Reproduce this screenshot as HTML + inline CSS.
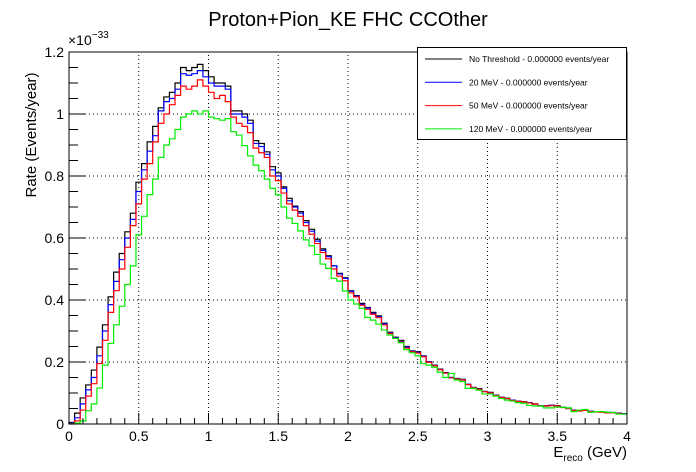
<!DOCTYPE html>
<html><head><meta charset="utf-8"><style>
html,body{margin:0;padding:0;background:#fff;}
svg{display:block;font-family:"Liberation Sans",Arial,sans-serif;}
</style></head><body>
<svg id="chart" width="696" height="472" viewBox="0 0 696 472">
<rect x="0" y="0" width="696" height="472" fill="#fff"/>
<text x="348" y="26" text-anchor="middle" font-size="20">Proton+Pion_KE FHC CCOther</text>
<g id="grid"></g>
<g id="series"></g>
<g id="axes"></g>
<text x="68" y="45" font-size="14">×10<tspan dy="-7" font-size="10">−33</tspan></text>
<text transform="translate(36,135) rotate(-90)" text-anchor="middle" font-size="15">Rate (Events/year)</text>
<text x="627" y="457" text-anchor="end" font-size="15">E<tspan dy="4" font-size="10">reco</tspan><tspan dy="-4"> (GeV)</tspan></text>
<g>
<rect x="417.5" y="47.5" width="209" height="92" fill="#fff" stroke="#000" stroke-width="1"/>
<g id="legend-entries"></g>
</g>
</svg>
<script>
const binWidth = 0.04;
const seriesNames = ["No Threshold - 0.000000 events/year","20 MeV - 0.000000 events/year","50 MeV - 0.000000 events/year","120 MeV - 0.000000 events/year"];
const seriesColors = ["#000000","#0000ff","#ff0000","#00ee00"];
const xTickLabels = ["0","0.5","1","1.5","2","2.5","3","3.5","4"];
const yTickLabels = ["0","0.2","0.4","0.6","0.8","1","1.2"];
const noThreshold = [0.005,0.035,0.084,0.126,0.174,0.248,0.32,0.41,0.49,0.55,
0.62,0.68,0.78,0.84,0.91,0.96,1.02,1.055,1.07,1.10,
1.15,1.14,1.15,1.16,1.14,1.12,1.10,1.10,1.09,1.01,
1.01,1.0,0.98,0.914,0.905,0.878,0.83,0.81,0.765,0.728,
0.703,0.685,0.656,0.628,0.596,0.565,0.543,0.51,0.486,0.472,
0.43,0.414,0.389,0.376,0.36,0.349,0.325,0.296,0.28,0.27,
0.25,0.236,0.233,0.22,0.201,0.19,0.177,0.166,0.15,0.147,
0.144,0.128,0.118,0.114,0.105,0.102,0.093,0.086,0.083,0.077,
0.074,0.072,0.069,0.065,0.059,0.059,0.06,0.059,0.054,0.051,
0.045,0.043,0.045,0.041,0.04,0.039,0.037,0.037,0.035,0.033];
const mev20 = [0.003,0.02,0.065,0.11,0.15,0.22,0.30,0.385,0.46,0.53,
0.60,0.66,0.75,0.82,0.88,0.93,1.01,1.04,1.05,1.08,
1.13,1.125,1.13,1.14,1.12,1.10,1.09,1.09,1.08,1.0,
1.0,0.99,0.97,0.905,0.895,0.87,0.82,0.80,0.76,0.72,
0.70,0.68,0.65,0.622,0.59,0.56,0.54,0.51,0.484,0.47,
0.428,0.412,0.386,0.374,0.357,0.346,0.323,0.294,0.278,0.266,
0.248,0.235,0.231,0.219,0.2,0.189,0.176,0.165,0.15,0.146,
0.143,0.128,0.118,0.113,0.105,0.101,0.093,0.086,0.082,0.077,
0.074,0.071,0.069,0.064,0.059,0.058,0.06,0.058,0.054,0.05,
0.045,0.043,0.044,0.041,0.04,0.039,0.037,0.036,0.035,0.033];
const mev50 = [0.001,0.01,0.045,0.09,0.13,0.195,0.27,0.36,0.43,0.50,
0.57,0.64,0.71,0.79,0.84,0.91,0.97,1.0,1.03,1.06,
1.09,1.08,1.09,1.11,1.09,1.07,1.05,1.06,1.04,0.99,
0.97,0.96,0.94,0.89,0.875,0.86,0.80,0.785,0.745,0.71,
0.69,0.67,0.64,0.612,0.582,0.553,0.533,0.50,0.477,0.462,
0.423,0.41,0.383,0.37,0.354,0.343,0.32,0.292,0.276,0.264,
0.245,0.233,0.229,0.217,0.199,0.188,0.175,0.164,0.149,0.145,
0.142,0.127,0.117,0.112,0.104,0.1,0.092,0.085,0.082,0.076,
0.073,0.071,0.068,0.064,0.058,0.058,0.059,0.058,0.053,0.05,
0.044,0.042,0.044,0.04,0.039,0.038,0.036,0.036,0.034,0.032];
const mev120 = [0,0.003,0.01,0.043,0.065,0.116,0.19,0.26,0.32,0.38,
0.45,0.51,0.61,0.67,0.74,0.79,0.86,0.90,0.92,0.95,
0.99,1.0,1.01,1.0,1.01,0.99,0.985,0.98,0.985,0.943,
0.932,0.898,0.865,0.835,0.817,0.79,0.76,0.739,0.70,0.664,
0.647,0.623,0.594,0.575,0.547,0.516,0.502,0.47,0.461,0.429,
0.40,0.387,0.373,0.344,0.335,0.322,0.303,0.287,0.276,0.262,
0.24,0.23,0.22,0.195,0.19,0.183,0.167,0.15,0.163,0.142,
0.137,0.115,0.115,0.109,0.097,0.097,0.09,0.082,0.077,0.074,
0.069,0.067,0.06,0.058,0.058,0.052,0.052,0.055,0.054,0.052,
0.04,0.045,0.047,0.038,0.04,0.04,0.038,0.037,0.032,0.032];

const NS="http://www.w3.org/2000/svg";
const X0=69,X1=627,Y0=424,Y1=52,XMAX=4,YMAX=1.2;
function xs(v){return X0+(X1-X0)*v/XMAX;}
function ys(v){return Y0-(Y0-Y1)*v/YMAX;}
function mk(tag,attrs,parent){const e=document.createElementNS(NS,tag);for(const k in attrs)e.setAttribute(k,attrs[k]);parent.appendChild(e);return e;}
const grid=document.getElementById('grid'),axes=document.getElementById('axes'),ser=document.getElementById('series');
// grid
for(let i=1;i<xTickLabels.length-1;i++){const v=parseFloat(xTickLabels[i]);
 const l=mk('line',{x1:xs(v),x2:xs(v),y1:Y0,y2:Y1,stroke:'#000','stroke-width':1,'stroke-dasharray':'1,3'},grid);
 
 }
for(let i=1;i<yTickLabels.length-1;i++){const v=parseFloat(yTickLabels[i]);
 const l=mk('line',{x1:X0,x2:X1,y1:ys(v),y2:ys(v),stroke:'#000','stroke-width':1,'stroke-dasharray':'1,3'},grid);
 
 }
// series
const allSeries=[noThreshold,mev20,mev50,mev120];
allSeries.forEach((data,si)=>{
 let d='M'+xs(0)+','+ys(0);
 for(let i=0;i<data.length;i++){d+=' L'+xs(i*binWidth)+','+ys(data[i])+' L'+xs((i+1)*binWidth)+','+ys(data[i]);}
 const p=mk('path',{d:d,fill:'none',stroke:seriesColors[si],'stroke-width':1.2},ser);
 
 
});
// frame
const fr=mk('rect',{x:X0,y:Y1,width:X1-X0,height:Y0-Y1,fill:'none',stroke:'#000','stroke-width':1},axes);


// x ticks
for(let k=0;k<=40;k++){const v=k*0.1;const major=(k%5===0);
 const t=mk('line',{x1:xs(v),x2:xs(v),y1:Y0,y2:Y0-(major?11:6),stroke:'#000','stroke-width':1},axes);
 
 }
xTickLabels.forEach(s=>{const v=parseFloat(s);
 const t=mk('text',{x:xs(v),y:441,'text-anchor':'middle','font-size':14},axes);t.textContent=s;
 
 });
// y ticks
for(let k=0;k<=24;k++){const v=k*0.05;const major=(k%4===0);
 const t=mk('line',{x1:X0,x2:X0+(major?17:9),y1:ys(v),y2:ys(v),stroke:'#000','stroke-width':1},axes);
 
 }
yTickLabels.forEach(s=>{const v=parseFloat(s);
 const t=mk('text',{x:64,y:ys(v)+5,'text-anchor':'end','font-size':14},axes);t.textContent=s;
 
 });
// legend
const lg=document.getElementById('legend-entries');
seriesNames.forEach((n,i)=>{const y=59+i*23.3;
 const l=mk('line',{x1:425,x2:462,y1:y,y2:y,stroke:seriesColors[i],'stroke-width':1},lg);
 
 
 const t=mk('text',{x:469,y:y+3,'font-size':8.5},lg);t.textContent=n;
 
 });
</script>
</body></html>
